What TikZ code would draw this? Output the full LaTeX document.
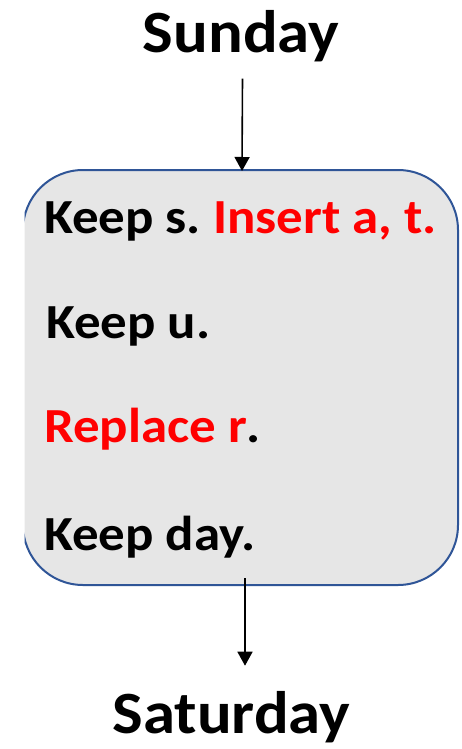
\documentclass[tikz,border=0pt]{standalone}
\usepackage{fontspec}
\setmainfont{Carlito}[FakeStretch=1.08]
\usetikzlibrary{arrows.meta}
\definecolor{boxfill}{HTML}{E6E6E6}
\definecolor{boxline}{HTML}{2F5597}
\definecolor{hot}{HTML}{FF0000}
\frenchspacing
\begin{document}
\begin{tikzpicture}[x=1pt,y=-1pt,
  title/.style={font=\fontsize{60}{60}\selectfont\bfseries, inner sep=0pt, anchor=base},
  stepline/.style={font=\fontsize{49}{49}\selectfont\bfseries, inner sep=0pt, anchor=base west},
  panel/.style={draw=boxline, line width=2pt, fill=boxfill, rounded corners=60pt,
    minimum width=435pt, minimum height=415pt, inner sep=0pt},
  arr/.style={line width=1.6pt, -{Triangle[width=15pt,length=14pt]}}]
\useasboundingbox (0,0) rectangle (461,749);

% the edit-script panel, its left edge trimmed off
\begin{scope}
  \clip (24.5,0) rectangle (461,749);
  \node[panel] (box) at (240.5,377.5) {};
\end{scope}

\node[title] (sun) at (241,53) {Sunday};
\node[title] (sat) at (231.5,733) {Saturday};

\node[stepline] (l1) at (44,233) {Keep s. \textcolor{hot}{Insert a, t.}};
\node[stepline] (l2) at (46,338) {Keep u.};
\node[stepline] (l3) at (44,442) {\textcolor{hot}{Replace r}.};
\node[stepline] (l4) at (44,550) {Keep day.};

\draw[arr] ([xshift=1.5pt,yshift=-16pt]sun.south) -- ([xshift=1.5pt,yshift=-2pt]box.north);
\draw[arr] ([xshift=4.5pt,yshift=8pt]box.south) -- ([xshift=13.5pt,yshift=25pt]sat.north);
\end{tikzpicture}
\end{document}
